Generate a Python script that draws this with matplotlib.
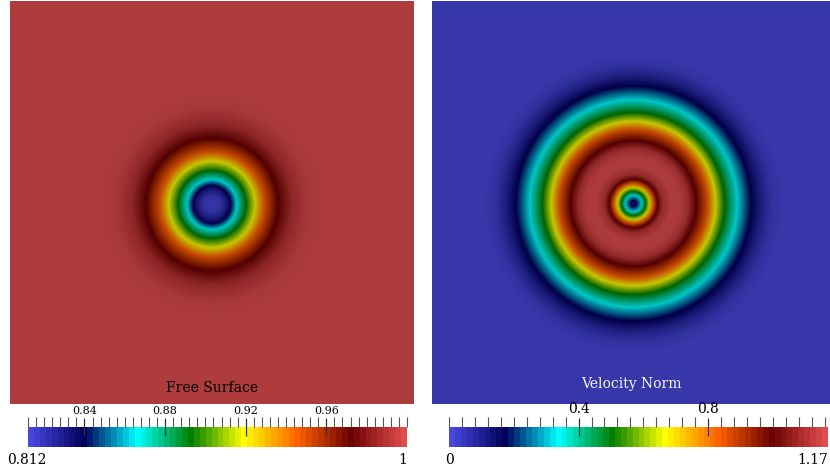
import numpy as np
import matplotlib
matplotlib.use("Agg")
import matplotlib.pyplot as plt
from matplotlib.colors import LinearSegmentedColormap, Normalize
from matplotlib.cm import ScalarMappable
from matplotlib.ticker import FixedLocator

# ---------------- data ----------------
# Free surface: radial profile (radius in px from ring centre -> height)
fs_radius = [0, 8, 14, 19, 25, 34, 43, 52, 66, 80, 97, 120, 400]
fs_value = [0.812, 0.815, 0.825, 0.839, 0.866, 0.893, 0.919, 0.946, 0.973, 0.990, 0.998, 1.0, 1.0]
fs_center = (0.0, -2.5)
fs_range = (0.812, 1.0)
fs_major = [0.84, 0.88, 0.92, 0.96]
fs_major_labels = ["0.84", "0.88", "0.92", "0.96"]
fs_minor_step = 0.004
fs_title = "Free Surface"

# Velocity norm: radial profile
vel_radius = [0, 4, 8, 12, 16, 20, 24, 29, 38, 48, 55, 63, 74, 82, 91, 104, 117, 127, 138, 150, 400]
vel_value = [0.10, 0.20, 0.33, 0.50, 0.67, 0.84, 1.00, 1.12, 1.17, 1.16, 1.12, 1.00, 0.84, 0.67,
             0.50, 0.33, 0.17, 0.08, 0.02, 0.0, 0.0]
vel_center = (2.0, -1.5)
vel_range = (0.0, 1.17)
vel_major = [0.4, 0.8]
vel_major_labels = ["0.4", "0.8"]
vel_minor_step = 0.04
vel_title = "Velocity Norm"

# ParaView "Rainbow Desaturated" colour map
cmap_pos = [0.0, 0.143, 0.285, 0.429, 0.571, 0.714, 0.857, 1.0]
cmap_rgb = [(0.278, 0.278, 0.859), (0.0, 0.0, 0.361), (0.0, 1.0, 1.0), (0.0, 0.502, 0.0),
            (1.0, 1.0, 0.0), (1.0, 0.380, 0.0), (0.420, 0.0, 0.0), (0.878, 0.302, 0.302)]

# ---------------- figure ----------------
W, H = 830, 473
fig = plt.figure(figsize=(W / 100, H / 100), dpi=100)
plt.rcParams["font.family"] = ["DejaVu Serif"]

cmap_bar = LinearSegmentedColormap.from_list("rd64", list(zip(cmap_pos, cmap_rgb)), N=64)
cmap_img = LinearSegmentedColormap.from_list("rd", list(zip(cmap_pos, cmap_rgb)), N=1024)
SHADE = 0.78


def ax_px(x0, y0, x1, y1):
    return fig.add_axes([x0 / W, 1 - y1 / H, (x1 - x0) / W, (y1 - y0) / H])


def field_panel(box, radius, value, center, vrange, title, tcolor, ty):
    x0, y0, x1, y1 = box
    ax = ax_px(x0, y0, x1, y1)
    w, h = x1 - x0, y1 - y0
    xs = np.linspace(-w / 2, w / 2, int(w) * 2)
    ys = np.linspace(-h / 2, h / 2, int(h) * 2)
    X, Y = np.meshgrid(xs, ys)
    r = np.hypot(X - center[0], Y - center[1])
    val = np.interp(r, radius, value)
    norm = Normalize(*vrange)
    rgb = cmap_img(norm(val))[..., :3] * SHADE
    ax.imshow(rgb, extent=(-w / 2, w / 2, -h / 2, h / 2), origin="lower",
              interpolation="bilinear", aspect="auto")
    ax.set_xlim(-w / 2, w / 2)
    ax.set_ylim(-h / 2, h / 2)
    ax.axis("off")
    fig.text((x0 + x1) / 2 / W, 1 - ty / H, title, ha="center", va="baseline",
             color=tcolor, fontsize=10)


def colorbar(box, vrange, major, major_labels, minor_step, lab_size, lo_lab, hi_lab, lo_x, hi_x):
    x0, y0, x1, y1 = box
    cax = ax_px(x0, y0, x1, y1)
    sm = ScalarMappable(norm=Normalize(*vrange), cmap=cmap_bar)
    cb = fig.colorbar(sm, cax=cax, orientation="horizontal")
    cb.outline.set_visible(False)
    cax.xaxis.set_ticks_position("top")
    cax.xaxis.set_label_position("top")
    cax.set_xticks(major)
    cax.set_xticklabels(major_labels)
    n = int(np.floor((vrange[1] - vrange[0]) / minor_step + 1e-6))
    cax.xaxis.set_minor_locator(FixedLocator([vrange[0] + i * minor_step for i in range(n + 1)]))
    cax.tick_params(axis="x", which="major", direction="inout", length=13.5, width=0.9,
                    color="#333333", labelsize=lab_size, pad=1.0)
    cax.tick_params(axis="x", which="minor", direction="out", length=7.2, width=0.8,
                    color="#555555")
    cax.set_xlim(*vrange)
    fig.text(lo_x / W, 1 - 464 / H, lo_lab, ha="left", va="baseline", fontsize=10)
    fig.text(hi_x / W, 1 - 464 / H, hi_lab, ha="right", va="baseline", fontsize=10)


field_panel((10, 1, 414, 404), fs_radius, fs_value, fs_center, fs_range, fs_title, "black", 392)
field_panel((432, 1, 830, 404), vel_radius, vel_value, vel_center, vel_range, vel_title, "#f2f2f2", 388)

colorbar((28, 427, 407, 447), fs_range, fs_major, fs_major_labels, fs_minor_step, 8,
         "0.812", "1", 7, 407)
colorbar((449, 427, 828, 447), vel_range, vel_major, vel_major_labels, vel_minor_step, 10,
         "0", "1.17", 445, 828)

fig.savefig("out.png", dpi=100)
